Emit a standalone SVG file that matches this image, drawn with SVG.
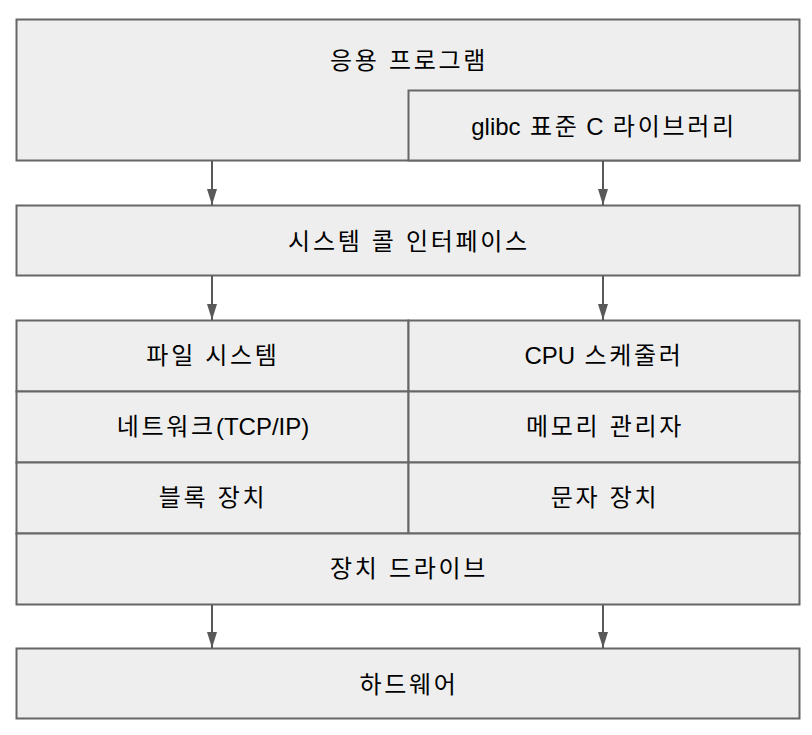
<svg xmlns="http://www.w3.org/2000/svg" width="812" height="735" viewBox="0 0 812 735">
<defs>
<style>
.b{fill:#eeeeee;stroke:#666666;stroke-width:2}
.t{font-family:"Liberation Sans","Noto Sans CJK KR",sans-serif;font-size:24px;fill:#000;text-anchor:middle;dominant-baseline:central}
.k{letter-spacing:2.7px}
.c{stroke:#595959;stroke-width:2;fill:none;marker-end:url(#a)}
</style>
<marker id="a" markerWidth="16" markerHeight="10" refX="16" refY="5" orient="auto" markerUnits="userSpaceOnUse" viewBox="0 0 16 10">
<path d="M0,0 L16,5 L0,10 Z" fill="#595959"/>
</marker>
</defs>
<g id="app"><rect class="b" x="16.5" y="19.5" width="783" height="141"/><text class="t k" x="409" y="60">응용 프로그램</text></g>
<g id="glibc"><rect class="b" x="408.5" y="90.5" width="391" height="70"/><text class="t" x="604" y="126">glibc<tspan class="k"> 표준</tspan> C<tspan class="k"> 라이브러리</tspan></text></g>
<g id="syscall"><rect class="b" x="16.5" y="205.5" width="783" height="70"/><text class="t k" x="409" y="241">시스템 콜 인터페이스</text></g>
<g id="fs"><rect class="b" x="16.5" y="320.5" width="392" height="71"/><text class="t k" x="213" y="355">파일 시스템</text></g>
<g id="cpu"><rect class="b" x="408.5" y="320.5" width="391" height="71"/><text class="t" x="604" y="355">CPU<tspan class="k"> 스케줄러</tspan></text></g>
<g id="net"><rect class="b" x="16.5" y="391.5" width="392" height="71"/><text class="t" x="213" y="426"><tspan class="k">네트워크</tspan>(TCP/IP)</text></g>
<g id="mem"><rect class="b" x="408.5" y="391.5" width="391" height="71"/><text class="t k" x="605" y="426">메모리 관리자</text></g>
<g id="blk"><rect class="b" x="16.5" y="462.5" width="392" height="71"/><text class="t k" x="213" y="497">블록 장치</text></g>
<g id="chr"><rect class="b" x="408.5" y="462.5" width="391" height="71"/><text class="t k" x="605" y="497">문자 장치</text></g>
<g id="drv"><rect class="b" x="16.5" y="533.5" width="783" height="71"/><text class="t k" x="409" y="568">장치 드라이브</text></g>
<g id="hw"><rect class="b" x="16.5" y="648.5" width="783" height="70"/><text class="t k" x="409" y="684">하드웨어</text></g>
<g id="connectors">
<line class="c" x1="212" y1="161" x2="212" y2="205"/>
<line class="c" x1="603" y1="161" x2="603" y2="205"/>
<line class="c" x1="212" y1="276" x2="212" y2="320"/>
<line class="c" x1="603" y1="276" x2="603" y2="320"/>
<line class="c" x1="212" y1="605" x2="212" y2="648"/>
<line class="c" x1="603" y1="605" x2="603" y2="648"/>
</g>
</svg>
